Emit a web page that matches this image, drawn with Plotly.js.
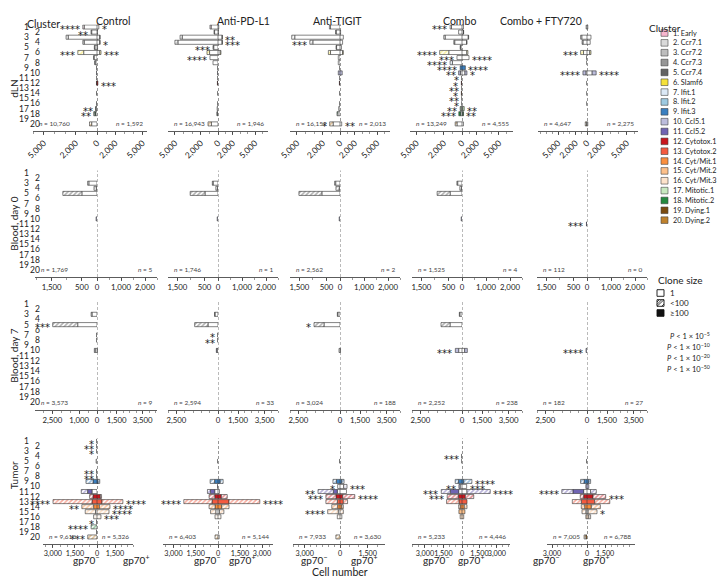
<!DOCTYPE html>
<html><head><meta charset="utf-8">
<script src="https://cdn.plot.ly/plotly-3.0.1.min.js"></script>
<style>html,body{margin:0;padding:0;background:#fff}#chart{width:721px;height:585px}</style>
</head><body><div id="chart"></div>
<script>
// ---------------- DATA ----------------
var clusterNames = ['1. Early','2. Ccr7.1','3. Ccr7.2','4. Ccr7.3','5. Ccr7.4','6. Slamf6','7. Ifit.1','8. Ifit.2','9. Ifit.3','10. Ccl5.1','11. Ccl5.2','12. Cytotox.1','13. Cytotox.2','14. Cyt/Mit.1','15. Cyt/Mit.2','16. Cyt/Mit.3','17. Mitotic.1','18. Mitotic.2','19. Dying.1','20. Dying.2'];
var clusterColors = ['#f7b6cf','#d9d9d9','#bdbdbd','#969696','#636363','#f5e13a','#dce9f6','#9ecae1','#3a7fc0','#bcbddc','#6f64b3','#c8161d','#f45a3f','#fb8f3e','#fdc08a','#fde3cb','#c7e9c0','#23893f','#7a4a10','#bf812d'];
var treatments = ['Control','Anti-PD-L1','Anti-TIGIT','Combo','Combo + FTY720'];
var tissues = ['dLN','Blood, day 0','Blood, day 7','Tumor'];
var cloneSizes = ['1','<100','\u2265100'];
var pLabels = ['5','10','20','50'];

var n_dln_neg = [10760,16943,16152,13249,4647];
var n_dln_pos = [1592,1946,2013,4555,2275];
var n_bd0_neg = [1769,1746,2562,1525,112];
var n_bd0_pos = [5,1,2,4,0];
var n_bd7_neg = [3573,2594,3024,2252,182];
var n_bd7_pos = [9,33,188,238,27];
var n_tum_neg = [9610,6403,7933,5233,7005];
var n_tum_pos = [5326,5144,3630,4446,6788];

// Cell counts per cluster (1..20). L = gp70-, R = gp70+ ; 1 = clone size 1, S = >=100, H = <100
var dln_ctrl_L1 = [1200,500,2700,1200,200,1250,280,180,40,0,30,20,0,40,0,40,100,150,0,500];
var dln_ctrl_LS = [0,0,0,0,0,0,0,0,0,40,0,30,0,0,0,0,0,60,0,0];
var dln_ctrl_LH = [130,60,200,130,50,550,30,20,0,0,0,0,0,0,0,0,30,100,0,200];
var dln_ctrl_R1 = [200,50,300,300,60,300,0,0,0,0,0,0,0,0,0,0,0,0,0,0];
var dln_ctrl_RS = [0,0,0,0,0,0,0,0,0,0,0,100,0,0,0,0,0,0,0,0];
var dln_ctrl_RH = [0,0,40,40,0,140,0,0,0,0,0,0,0,0,0,0,0,0,0,0];
var dln_ctrl_Lst = ['****','**','','','','***','','','','','','','','','','','**','**','',''];
var dln_ctrl_Rst = ['*','','','*','','***','','','','','','***','','','','','','','',''];

var dln_pdl1_L1 = [800,400,4150,4650,500,980,930,580,40,0,30,30,0,40,0,40,100,80,0,770];
var dln_pdl1_LS = [0,0,0,0,0,0,0,0,0,50,0,40,0,0,0,0,0,0,0,0];
var dln_pdl1_LH = [130,60,250,350,80,300,0,0,0,0,0,0,0,0,0,0,0,40,0,390];
var dln_pdl1_R1 = [100,50,550,550,0,300,0,0,0,0,0,0,0,0,0,0,0,0,0,0];
var dln_pdl1_RS = [0,0,0,0,0,0,0,0,0,0,0,0,0,0,0,0,0,0,0,0];
var dln_pdl1_RH = [0,0,50,50,0,100,0,0,0,0,0,0,0,0,0,0,0,0,0,0];
var dln_pdl1_Lst = ['','','','','***','','****','','','','','','','','','','','','',''];
var dln_pdl1_Rst = ['','','**','***','','','','','','','','','','','','','','','',''];

var dln_tigit_L1 = [1100,450,5250,3150,400,1100,200,200,30,0,30,30,0,40,0,40,150,250,0,800];
var dln_tigit_LS = [0,0,0,0,0,0,0,0,0,200,0,40,0,0,0,0,0,0,0,0];
var dln_tigit_LH = [130,50,350,350,60,250,0,0,0,0,0,0,0,0,0,0,0,100,0,400];
var dln_tigit_R1 = [0,80,450,350,200,350,0,0,0,0,0,0,0,0,0,0,0,0,0,230];
var dln_tigit_RS = [0,0,0,0,0,0,0,0,0,300,0,0,0,0,0,0,0,0,0,0];
var dln_tigit_RH = [0,0,0,0,0,100,0,0,0,0,0,0,0,0,0,0,0,0,0,0];
var dln_tigit_Lst = ['','','','***','','','','','','','','','','','','','','','','*'];
var dln_tigit_Rst = ['','','','','','','','','','','','','','','','','','','','**'];

var dln_combo_L1 = [1150,370,1850,800,150,1450,550,1050,0,170,30,30,30,30,30,30,100,150,0,550];
var dln_combo_LS = [0,0,0,0,0,0,0,0,200,200,0,40,0,40,0,0,100,200,0,0];
var dln_combo_LH = [150,0,150,100,50,1000,0,250,0,0,0,0,0,0,0,0,0,0,0,200];
var dln_combo_R1 = [200,200,850,620,0,650,950,0,0,400,0,0,0,0,0,0,100,100,0,200];
var dln_combo_RS = [0,0,0,0,0,0,0,0,450,270,0,0,0,0,0,0,200,100,0,0];
var dln_combo_RH = [0,20,50,50,0,150,0,0,0,0,0,0,0,0,0,0,0,0,0,0];
var dln_combo_Lst = ['***','','','','','****','***','****','****','**','*','*','**','*','**','*','**','***','',''];
var dln_combo_Rst = ['','','','','','','****','','****','*','','','','','','','**','**','',''];

var dln_fty_L1 = [150,0,900,700,0,600,60,30,0,200,0,30,0,30,0,30,0,0,0,100];
var dln_fty_LS = [0,0,0,0,0,0,0,0,0,500,0,0,0,0,0,0,0,0,0,0];
var dln_fty_LH = [0,0,200,150,0,500,0,0,0,0,0,0,0,0,0,0,0,0,0,200];
var dln_fty_R1 = [100,0,500,400,0,350,0,0,0,650,0,0,0,0,0,0,0,0,0,100];
var dln_fty_RS = [0,0,0,0,0,0,0,0,0,500,0,0,0,0,0,0,0,0,0,0];
var dln_fty_RH = [0,0,0,0,0,150,0,0,0,0,0,0,0,0,0,0,0,0,0,0];
var dln_fty_Lst = ['','','','','','***','','','','****','','','','','','','','','',''];
var dln_fty_Rst = ['','','','','','','','','','****','','','','','','','','','',''];

var bd0_ctrl_L1 = [0,0,270,20,500,0,0,0,0,0,0,0,0,0,0,0,0,0,0,0];
var bd0_ctrl_LS = [0,0,0,0,0,0,0,0,0,30,0,0,0,0,0,0,0,0,0,0];
var bd0_ctrl_LH = [0,0,40,80,630,0,0,0,0,0,0,0,0,0,0,0,0,0,0,0];
var bd0_ctrl_R1 = [0,0,0,0,0,0,0,0,0,0,0,0,0,0,0,0,0,0,0,0];
var bd0_ctrl_RS = [0,0,0,0,0,0,0,0,0,0,0,0,0,0,0,0,0,0,0,0];
var bd0_ctrl_RH = [0,0,0,0,0,0,0,0,0,0,0,0,0,0,0,0,0,0,0,0];
var bd0_ctrl_Lst = ['','','','','','','','','','','','','','','','','','','',''];
var bd0_ctrl_Rst = ['','','','','','','','','','','','','','','','','','','',''];

var bd0_pdl1_L1 = [0,0,180,20,480,0,0,0,0,0,0,0,0,0,0,0,0,0,0,0];
var bd0_pdl1_LS = [0,0,0,0,0,0,0,0,0,30,0,0,0,0,0,0,0,0,0,0];
var bd0_pdl1_LH = [0,0,30,60,550,0,0,0,0,0,0,0,0,0,0,0,0,0,0,0];
var bd0_pdl1_R1 = [0,0,0,0,0,0,0,0,0,0,0,0,0,0,0,0,0,0,0,0];
var bd0_pdl1_RS = [0,0,0,0,0,0,0,0,0,0,0,0,0,0,0,0,0,0,0,0];
var bd0_pdl1_RH = [0,0,0,0,0,0,0,0,0,0,0,0,0,0,0,0,0,0,0,0];
var bd0_pdl1_Lst = ['','','','','','','','','','','','','','','','','','','',''];
var bd0_pdl1_Rst = ['','','','','','','','','','','','','','','','','','','',''];

var bd0_tigit_L1 = [0,0,160,30,670,0,0,0,0,0,0,0,0,0,0,0,0,0,0,0];
var bd0_tigit_LS = [0,0,0,0,0,0,0,0,0,30,0,0,0,0,0,0,0,0,0,0];
var bd0_tigit_LH = [0,0,40,120,850,0,0,0,0,0,0,0,0,0,0,0,0,0,0,0];
var bd0_tigit_R1 = [0,0,0,0,0,0,0,0,0,0,0,0,0,0,0,0,0,0,0,0];
var bd0_tigit_RS = [0,0,0,0,0,0,0,0,0,0,0,0,0,0,0,0,0,0,0,0];
var bd0_tigit_RH = [0,0,0,0,0,0,0,0,0,0,0,0,0,0,0,0,0,0,0,0];
var bd0_tigit_Lst = ['','','','','','','','','','','','','','','','','','','',''];
var bd0_tigit_Rst = ['','','','','','','','','','','','','','','','','','','',''];

var bd0_combo_L1 = [0,0,160,20,440,0,0,0,0,0,0,0,0,0,0,0,0,0,0,0];
var bd0_combo_LS = [0,0,0,0,0,0,0,0,0,30,0,0,0,0,0,0,0,0,0,0];
var bd0_combo_LH = [0,0,30,60,480,0,0,0,0,0,0,0,0,0,0,0,0,0,0,0];
var bd0_combo_R1 = [0,0,0,0,0,0,0,0,0,0,0,0,0,0,0,0,0,0,0,0];
var bd0_combo_RS = [0,0,0,0,0,0,0,0,0,0,0,0,0,0,0,0,0,0,0,0];
var bd0_combo_RH = [0,0,0,0,0,0,0,0,0,0,0,0,0,0,0,0,0,0,0,0];
var bd0_combo_Lst = ['','','','','','','','','','','','','','','','','','','',''];
var bd0_combo_Rst = ['','','','','','','','','','','','','','','','','','','',''];

var bd0_fty_L1 = [0,0,0,0,0,0,0,0,0,0,0,0,0,0,0,0,0,0,0,0];
var bd0_fty_LS = [0,0,0,0,0,0,0,0,0,0,20,0,0,0,0,0,0,0,0,0];
var bd0_fty_LH = [0,0,0,0,0,0,0,0,0,0,0,0,0,0,0,0,0,0,0,0];
var bd0_fty_R1 = [0,0,0,0,0,0,0,0,0,0,0,0,0,0,0,0,0,0,0,0];
var bd0_fty_RS = [0,0,0,0,0,0,0,0,0,0,0,0,0,0,0,0,0,0,0,0];
var bd0_fty_RH = [0,0,0,0,0,0,0,0,0,0,0,0,0,0,0,0,0,0,0,0];
var bd0_fty_Lst = ['','','','','','','','','','','***','','','','','','','','',''];
var bd0_fty_Rst = ['','','','','','','','','','','','','','','','','','','',''];

var bd7_ctrl_L1 = [0,0,280,0,1080,0,20,20,0,100,0,0,0,0,0,0,0,0,0,0];
var bd7_ctrl_LS = [0,0,0,0,0,0,0,0,0,0,0,0,0,0,0,0,0,0,0,0];
var bd7_ctrl_LH = [0,0,50,0,1400,0,0,0,0,50,0,0,0,0,0,0,0,0,0,0];
var bd7_ctrl_R1 = [0,0,0,0,0,0,0,0,0,30,0,0,0,0,0,0,0,0,0,0];
var bd7_ctrl_RS = [0,0,0,0,0,0,0,0,0,0,0,0,0,0,0,0,0,0,0,0];
var bd7_ctrl_RH = [0,0,0,0,0,0,0,0,0,0,0,0,0,0,0,0,0,0,0,0];
var bd7_ctrl_Lst = ['','','','','***','','','','','','','','','','','','','','',''];
var bd7_ctrl_Rst = ['','','','','','','','','','','','','','','','','','','',''];

var bd7_pdl1_L1 = [0,0,180,0,600,0,20,20,0,60,0,0,0,0,0,0,0,0,0,0];
var bd7_pdl1_LS = [0,0,0,0,0,0,0,0,0,40,0,0,0,0,0,0,0,0,0,0];
var bd7_pdl1_LH = [0,0,30,0,800,0,0,0,0,0,0,0,0,0,0,0,0,0,0,0];
var bd7_pdl1_R1 = [0,0,0,0,0,0,0,0,0,0,0,0,0,0,0,0,0,0,0,0];
var bd7_pdl1_RS = [0,0,0,0,0,0,0,0,0,0,0,0,0,0,0,0,0,0,0,0];
var bd7_pdl1_RH = [0,0,0,0,0,0,0,0,0,0,0,0,0,0,0,0,0,0,0,0];
var bd7_pdl1_Lst = ['','','','','','','*','**','','','','','','','','','','','',''];
var bd7_pdl1_Rst = ['','','','','','','','','','','','','','','','','','','',''];

var bd7_tigit_L1 = [0,0,130,0,960,0,0,0,0,60,0,0,0,0,0,0,0,0,0,0];
var bd7_tigit_LS = [0,0,0,0,0,0,0,0,0,0,0,0,0,0,0,0,0,0,0,0];
var bd7_tigit_LH = [0,0,30,0,600,0,0,0,0,0,0,0,0,0,0,0,0,0,0,0];
var bd7_tigit_R1 = [0,0,0,0,0,0,0,0,0,40,0,0,0,0,0,0,0,0,0,0];
var bd7_tigit_RS = [0,0,0,0,0,0,0,0,0,0,0,0,0,0,0,0,0,0,0,0];
var bd7_tigit_RH = [0,0,0,0,0,0,0,0,0,0,0,0,0,0,0,0,0,0,0,0];
var bd7_tigit_Lst = ['','','','','*','','','','','','','','','','','','','','',''];
var bd7_tigit_Rst = ['','','','','','','','','','','','','','','','','','','',''];

var bd7_combo_L1 = [0,0,130,0,720,0,0,0,0,200,0,0,0,0,0,0,0,0,0,0];
var bd7_combo_LS = [0,0,0,0,0,0,0,0,0,200,0,0,0,0,0,0,0,0,0,0];
var bd7_combo_LH = [0,0,30,0,540,0,0,0,0,0,0,0,0,0,0,0,0,0,0,0];
var bd7_combo_R1 = [0,0,0,0,0,0,0,0,0,200,0,0,0,0,0,0,0,0,0,0];
var bd7_combo_RS = [0,0,0,0,0,0,0,0,0,200,0,0,0,0,0,0,0,0,0,0];
var bd7_combo_RH = [0,0,0,0,0,0,0,0,0,0,0,0,0,0,0,0,0,0,0,0];
var bd7_combo_Lst = ['','','','','','','','','','***','','','','','','','','','',''];
var bd7_combo_Rst = ['','','','','','','','','','','','','','','','','','','',''];

var bd7_fty_L1 = [0,0,0,0,0,0,0,0,0,0,0,0,0,0,0,0,0,0,0,0];
var bd7_fty_LS = [0,0,0,0,0,0,0,0,0,60,0,0,0,0,0,0,0,0,0,0];
var bd7_fty_LH = [0,0,0,0,0,0,0,0,0,0,0,0,0,0,0,0,0,0,0,0];
var bd7_fty_R1 = [0,0,0,0,0,0,0,0,0,0,0,0,0,0,0,0,0,0,0,0];
var bd7_fty_RS = [0,0,0,0,0,0,0,0,0,0,0,0,0,0,0,0,0,0,0,0];
var bd7_fty_RH = [0,0,0,0,0,0,0,0,0,0,0,0,0,0,0,0,0,0,0,0];
var bd7_fty_Lst = ['','','','','','','','','','****','','','','','','','','','',''];
var bd7_fty_Rst = ['','','','','','','','','','','','','','','','','','','',''];

var tum_ctrl_L1 = [20,20,20,0,60,0,30,30,0,0,340,0,0,0,100,0,30,0,30,0];
var tum_ctrl_LS = [0,0,0,0,0,0,0,0,270,0,300,270,340,230,0,0,0,0,0,0];
var tum_ctrl_LH = [0,0,0,0,0,0,0,0,480,0,430,230,2650,800,700,230,0,400,0,630];
var tum_ctrl_R1 = [0,0,0,0,0,0,0,0,0,0,0,0,0,0,0,0,0,0,0,0];
var tum_ctrl_RS = [0,0,0,0,0,0,0,0,80,0,0,280,415,200,0,0,0,0,0,0];
var tum_ctrl_RH = [0,0,0,0,0,0,0,0,150,0,0,100,1740,880,1000,330,0,0,0,0];
var tum_ctrl_Lst = ['*','**','*','','','','**','**','','','','','****','**','','','*','****','','***'];
var tum_ctrl_Rst = ['','','','','','','','','','','','','****','****','****','***','','','',''];

var tum_pdl1_L1 = [0,0,0,0,20,0,0,0,0,0,220,0,0,0,150,0,0,0,0,0];
var tum_pdl1_LS = [0,0,0,0,0,0,0,0,230,30,290,220,400,200,0,0,0,0,0,0];
var tum_pdl1_LH = [0,0,0,0,0,0,0,0,300,0,200,380,1900,400,350,200,0,0,0,200];
var tum_pdl1_R1 = [0,0,0,0,0,0,0,0,0,0,100,0,0,0,100,0,0,0,0,80];
var tum_pdl1_RS = [0,0,0,0,0,0,0,0,150,0,0,230,750,250,0,0,0,0,0,0];
var tum_pdl1_RH = [0,0,0,0,0,0,0,0,200,0,0,400,2100,500,300,200,0,0,0,0];
var tum_pdl1_Lst = ['','','','','','','','','','','','','****','','','','','','',''];
var tum_pdl1_Rst = ['','','','','','','','','','','','','****','','','','','','',''];

var tum_tigit_L1 = [0,0,0,0,0,0,0,0,0,200,230,0,0,0,150,0,0,0,0,0];
var tum_tigit_LS = [0,0,0,0,20,0,0,0,300,0,340,340,230,200,0,0,0,0,0,0];
var tum_tigit_LH = [0,0,0,0,0,0,0,0,300,0,1300,860,970,500,900,230,0,0,0,350];
var tum_tigit_R1 = [0,0,0,0,0,0,0,0,0,200,350,0,0,0,0,0,0,0,0,0];
var tum_tigit_RS = [0,0,0,0,0,0,0,0,100,0,0,150,180,100,0,0,0,0,0,0];
var tum_tigit_RH = [0,0,0,0,0,0,0,0,120,180,0,650,230,80,180,100,0,0,0,0];
var tum_tigit_Lst = ['','','','','','','','','','*','**','***','','','****','','','','',''];
var tum_tigit_Rst = ['','','','','','','','','','***','','****','','','','','','','',''];

var tum_combo_L1 = [0,0,0,30,20,0,0,0,0,150,270,0,0,0,0,0,0,0,0,0];
var tum_combo_LS = [0,0,0,0,0,0,0,0,300,100,680,300,250,150,250,150,0,0,0,0];
var tum_combo_LH = [0,0,0,0,0,0,0,0,250,0,730,900,1000,120,0,0,0,0,0,0];
var tum_combo_R1 = [0,0,0,0,0,0,0,0,0,400,430,0,0,0,0,0,0,0,0,0];
var tum_combo_RS = [0,0,0,0,0,0,0,0,150,0,0,290,430,200,250,150,0,0,0,0];
var tum_combo_RH = [0,0,0,0,0,0,0,0,700,0,2000,720,0,230,0,0,0,0,0,0];
var tum_combo_Lst = ['','','','***','','','','','','**','***','***','','','','','','','',''];
var tum_combo_Rst = ['','','','','','','','','****','***','****','','','','','','','','',''];

var tum_fty_L1 = [0,0,0,0,0,0,0,0,0,0,290,0,0,0,100,0,0,0,0,0];
var tum_fty_LS = [0,0,0,0,20,0,0,0,250,100,920,290,490,200,0,100,0,0,0,100];
var tum_fty_LH = [0,0,0,0,0,0,0,0,300,0,950,290,770,290,330,0,0,0,0,150];
var tum_fty_R1 = [0,0,0,0,0,0,0,0,0,0,300,0,0,0,100,0,0,0,0,0];
var tum_fty_RS = [0,0,0,0,0,0,0,0,150,150,0,500,640,360,0,150,0,0,0,0];
var tum_fty_RH = [0,0,0,0,0,0,0,0,150,0,470,1050,1250,750,730,150,0,0,0,0];
var tum_fty_Lst = ['','','','','','','','','','','****','','','','','','','','',''];
var tum_fty_Rst = ['','','','','','','','','','','','***','','','*','','','','',''];

// axis ticks (cell numbers)
var ticks_dln_L = [-5000,-2000,0], ticks_dln_R = [2000,5000];
var ticks_bd0_L = [-1500,-500,0], ticks_bd0_R = [1000,2000];
var ticks_bd7_L_ctrl = [-2500,-1000,0], ticks_bd7_L = [-2500,0], ticks_bd7_R = [1500,3500];
var ticks_tum_L_full = [-3000,-1500,0], ticks_tum_L_short = [-3000,0];
var ticks_tum_R_full = [1500,3000], ticks_tum_R_short = [1500];

// ---------------- LAYOUT / DRAWING ----------------
var W = 721, H = 585;
var FONT = 'Lato, "Noto Sans", "DejaVu Sans", sans-serif';
var rowKeys = ['dln','bd0','bd7','tum'];
var colKeys = ['ctrl','pdl1','tigit','combo','fty'];
var nNeg = [n_dln_neg, n_bd0_neg, n_bd7_neg, n_tum_neg];
var nPos = [n_dln_pos, n_bd0_pos, n_bd7_pos, n_tum_pos];
var ticksL = [
  [ticks_dln_L,ticks_dln_L,ticks_dln_L,ticks_dln_L,ticks_dln_L],
  [ticks_bd0_L,ticks_bd0_L,ticks_bd0_L,ticks_bd0_L,ticks_bd0_L],
  [ticks_bd7_L_ctrl,ticks_bd7_L,ticks_bd7_L,ticks_bd7_L,ticks_bd7_L],
  [ticks_tum_L_full,ticks_tum_L_full,ticks_tum_L_short,ticks_tum_L_full,ticks_tum_L_short]];
var ticksR = [
  [ticks_dln_R,ticks_dln_R,ticks_dln_R,ticks_dln_R,ticks_dln_R],
  [ticks_bd0_R,ticks_bd0_R,ticks_bd0_R,ticks_bd0_R,ticks_bd0_R],
  [ticks_bd7_R,ticks_bd7_R,ticks_bd7_R,ticks_bd7_R,ticks_bd7_R],
  [ticks_tum_R_short,ticks_tum_R_full,ticks_tum_R_short,ticks_tum_R_full,ticks_tum_R_short]];
var minorD = [1000,500,500,500];
var tickFont = [8.5,7.8,7.8,7.2];

// geometry (pixels)
var zeroX = [97,218,340,462,587];
var rowY1 = [27,173,304,441];
var rowStep = [5.1,5.1,5.16,5.05];
var rowAxisY = [131,277,410,544];
var Lpx = [[64,50,50,52,49],[62,50,50,50,50],[62,50,50,50,50],[54,55,47,50,40]];
var Rpx = [[50,50,50,51,51],[60,60,60,60,60],[60,60,60,60,60],[36,55,45,48,48]];
var Lmax = [[6000,5800,5800,5700,8450],[2050,1850,1850,1850,1850],[3470,3000,3000,3000,3000],[3670,3700,4000,4050,3430]];
var Rmax = [[5500,6750,6750,6900,6400],[2500,2500,2500,2500,2500],[4600,4500,4500,4500,4500],[3000,3750,2430,4130,3980]];

function fx(px){ return px/W; }
function fy(py){ return 1 - py/H; }
function xName(i){ return i===1 ? 'x' : 'x'+i; }
function yName(i){ return i===1 ? 'y' : 'y'+i; }
function fmt(v){ return Math.abs(v).toLocaleString('en-US'); }

var layout = {
  width: W, height: H, margin: {l:0,r:0,t:0,b:0},
  paper_bgcolor: 'white', plot_bgcolor: 'rgba(0,0,0,0)',
  barmode: 'relative', bargap: 0.2, showlegend: false,
  font: {family: FONT, size: 8, color: '#222'},
  annotations: [], shapes: []
};
var traces = [];
var clusterIdx = clusterNames.map(function(_, i){ return i+1; });
var LINE = {color:'#333', width:0.6};

function buildPanel(r, c) {
  var p = r*5 + c;
  var xl = 2*p+1, xr = 2*p+2, yi = p+1;
  var pre = rowKeys[r] + '_' + colKeys[c] + '_';
  var d = {};
  ['L1','LS','LH','R1','RS','RH','Lst','Rst'].forEach(function(k){ d[k] = window[pre+k]; });

  var topPx = rowY1[r] - rowStep[r]/2;
  var botPx = rowAxisY[r];
  var bottomVal = 0.5 + (botPx - topPx)/rowStep[r];
  var z = zeroX[c];

  layout['yaxis' + (yi===1?'':yi)] = {
    domain: [fy(botPx), fy(topPx)], range: [bottomVal, 0.5], autorange: false, type: 'linear',
    anchor: xName(xl), showticklabels: false, showgrid: false, zeroline: false,
    showline: false, ticks: '', fixedrange: true
  };
  var axCommon = {
    anchor: yName(yi), type: 'linear', autorange: false, showgrid: false, zeroline: false, showline: true,
    linecolor: '#333', linewidth: 0.8, ticks: 'outside', ticklen: 3, tickwidth: 0.8, tickcolor: '#333',
    tickfont: {size: tickFont[r], family: FONT, color: '#222'}, tickmode: 'array',
    tickangle: r===0 ? -45 : 0,
    minor: {ticks: 'outside', ticklen: 1.8, tickcolor: '#555', tickwidth: 0.6, dtick: minorD[r], tick0: 0},
    fixedrange: true
  };
  layout['xaxis' + (xl===1?'':xl)] = Object.assign({}, axCommon, {
    domain: [fx(z - Lpx[r][c]), fx(z)], range: [-Lmax[r][c], 0],
    tickvals: ticksL[r][c], ticktext: ticksL[r][c].map(fmt)
  });
  layout['xaxis' + xr] = Object.assign({}, axCommon, {
    domain: [fx(z), fx(z + Rpx[r][c])], range: [0, Rmax[r][c]],
    tickvals: ticksR[r][c], ticktext: ticksR[r][c].map(fmt)
  });

  // bars: stacked from the centre outward: clone size 1, >=100, <100
  [['L',-1,xl],['R',1,xr]].forEach(function(side){
    var s = side[0], sign = side[1], ax = side[2];
    var kinds = [
      {arr: d[s+'1'], name: cloneSizes[0], marker: {color: 'white', line: LINE}},
      {arr: d[s+'S'], name: cloneSizes[2], marker: {color: clusterColors, line: LINE}},
      {arr: d[s+'H'], name: cloneSizes[1], marker: {color: 'white', line: LINE,
          pattern: {shape: '/', fgcolor: clusterColors, bgcolor: 'white', size: 3.2, solidity: 0.5, fillmode: 'overlay'}}}
    ];
    kinds.forEach(function(k){
      traces.push({
        type: 'bar', orientation: 'h', name: k.name,
        y: clusterIdx, x: k.arr.map(function(v){ return v ? sign*v : null; }),
        xaxis: xName(ax), yaxis: yName(yi), width: 0.8,
        marker: k.marker, hoverinfo: 'skip', showlegend: false
      });
    });
    d[s+'st'].forEach(function(st, i){
      if (!st) return;
      var tot = d[s+'1'][i] + d[s+'S'][i] + d[s+'H'][i];
      layout.annotations.push({
        xref: xName(ax), yref: yName(yi), x: sign*tot, y: i+1,
        text: st, showarrow: false, xanchor: sign<0 ? 'right' : 'left', yanchor: 'middle',
        xshift: sign*1, yshift: -3, font: {size: 10, family: 'DejaVu Sans, sans-serif', color: '#222'}
      });
    });
  });

  layout.shapes.push({
    type: 'line', xref: xName(xr), yref: yName(yi) + ' domain', x0: 0, x1: 0, y0: 0, y1: 1,
    line: {color: r===1||r===2 ? '#777' : '#333', width: 1, dash: '3px,2px'}, layer: 'below'
  });

  layout.annotations.push({
    xref: xName(xl) + ' domain', yref: yName(yi), x: 0, y: 20, xanchor: 'left', yanchor: 'middle',
    xshift: 4, text: '<i>n</i> = ' + nNeg[r][c].toLocaleString('en-US'), showarrow: false,
    font: {size: 6.5, color: '#444'}
  });
  layout.annotations.push({
    xref: xName(xr) + ' domain', yref: yName(yi), x: 1, y: 20, xanchor: 'right', yanchor: 'middle',
    xshift: -2, text: '<i>n</i> = ' + nPos[r][c].toLocaleString('en-US'), showarrow: false,
    font: {size: 6.5, color: '#444'}
  });

  if (c === 0) {
    clusterIdx.forEach(function(k){
      var odd = k % 2 === 1;
      layout.annotations.push({
        xref: 'paper', yref: yName(yi), x: fx(odd ? 31 : 42), y: k, xanchor: 'right', yanchor: 'middle',
        text: String(k), showarrow: false, font: {size: 8.5, color: '#222'}
      });
    });
    layout.annotations.push({
      xref: 'paper', yref: 'paper', x: fx(6), y: fy((topPx + botPx)/2), textangle: -90,
      text: tissues[r], showarrow: false, font: {size: 10, color: '#222'}
    });
  }
  if (r === 0) {
    layout.annotations.push({
      xref: 'paper', yref: 'paper', x: fx(z - 3), y: fy(13), text: treatments[c], showarrow: false,
      font: {size: 10.5, color: '#222'}
    });
  }
  if (r === 3) {
    layout.annotations.push({xref:'paper', yref:'paper', x: fx(z - 26), y: fy(568), text: 'gp70<sup>\u2212</sup>', showarrow:false, font:{size:10}});
    layout.annotations.push({xref:'paper', yref:'paper', x: fx(z + 24), y: fy(568), text: 'gp70<sup>+</sup>', showarrow:false, font:{size:10}});
  }
}
for (var rr = 0; rr < 4; rr++) { for (var cc = 0; cc < 5; cc++) { buildPanel(rr, cc); } }

layout.annotations.push({xref:'paper', yref:'paper', x: fx(25), y: fy(16), text: 'Cluster', showarrow:false, font:{size:10.5}});
layout.annotations.push({xref:'paper', yref:'paper', x: fx(340), y: fy(579.5), text: 'Cell number', showarrow:false, font:{size:10.5}});

// Cluster legend
layout.annotations.push({xref:'paper', yref:'paper', x: fx(683), y: fy(20), text: 'Cluster', showarrow:false, font:{size:10}});
clusterNames.forEach(function(nm, i){
  var yy = 33 + i*9.85;
  layout.shapes.push({type:'rect', xref:'paper', yref:'paper', x0: fx(661), x1: fx(668), y0: fy(yy+3.3), y1: fy(yy-3.3),
    fillcolor: clusterColors[i], line: {color:'#444', width:0.6}});
  layout.annotations.push({xref:'paper', yref:'paper', x: fx(670.5), y: fy(yy), xanchor:'left', yanchor:'middle',
    text: nm, showarrow:false, font:{size:7.3}});
});

// Clone size legend
layout.annotations.push({xref:'paper', yref:'paper', x: fx(656), y: fy(280), xanchor:'left', text: 'Clone size', showarrow:false, font:{size:10}});
cloneSizes.forEach(function(cs, i){
  var yy = 293 + i*10;
  var x0 = 657, x1 = 664, y0 = yy-3.3, y1 = yy+3.3;
  layout.shapes.push({type:'rect', xref:'paper', yref:'paper', x0: fx(x0), x1: fx(x1), y0: fy(y1), y1: fy(y0),
    fillcolor: i===2 ? '#111' : 'white', line: {color:'#111', width:0.9}});
  if (i === 1) {
    var pth = '';
    [[x0, y0+2.3, x0+2.3, y0],[x0, y1, x1, y0],[x0+4.7, y1, x1, y1-2.3],[x0, y0+4.7, x0+4.7, y0]].forEach(function(s){
      pth += 'M' + fx(s[0]) + ',' + fy(s[1]) + ' L' + fx(s[2]) + ',' + fy(s[3]) + ' ';
    });
    layout.shapes.push({type:'path', xref:'paper', yref:'paper', path: pth, line:{color:'#111', width:0.8}});
  }
  layout.annotations.push({xref:'paper', yref:'paper', x: fx(668), y: fy(yy), xanchor:'left', yanchor:'middle',
    text: cs, showarrow:false, font:{size:8}});
});

pLabels.forEach(function(e, i){
  layout.annotations.push({xref:'paper', yref:'paper', x: fx(712), y: fy(336 + i*11), xanchor:'right', yanchor:'middle',
    text: '<i>P</i> < 1 \u00d7 10<sup>\u2212' + e + '</sup>', showarrow:false, font:{size:7.5}});
});

Plotly.newPlot('chart', traces, layout, {staticPlot: true, displayModeBar: false});
</script>
</body></html>
